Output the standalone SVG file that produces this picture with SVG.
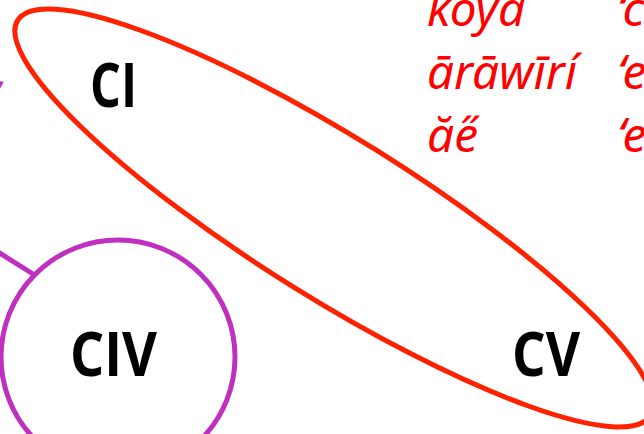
<svg xmlns="http://www.w3.org/2000/svg" width="644" height="434" viewBox="0 0 644 434">
<style>
.lbl{font-family:"Open Sans","Noto Sans",sans-serif;font-weight:bold;font-size:60px;fill:#000}
.red{font-family:"Noto Sans","Open Sans",sans-serif;font-style:italic;font-size:48px;fill:#FF0000}
.purple{stroke:#C030C0;stroke-width:5;fill:none}
</style>
<rect width="644" height="434" fill="#fff"/>
<g id="connectors">
<line class="purple" x1="-10" y1="247" x2="33" y2="274"/>
</g>
<text x="-4" y="87" font-family="Noto Sans, sans-serif" font-style="italic" font-size="48" fill="#C030C0">,</text>
<g id="words">
<text class="red" x="427" y="26" textLength="98" lengthAdjust="spacingAndGlyphs">koya</text>
<text class="red" x="427" y="89" textLength="150" lengthAdjust="spacingAndGlyphs">ārāwīrí</text>
<text class="red" x="427" y="152" textLength="51" lengthAdjust="spacingAndGlyphs">ăe̋</text>
<text class="red" x="617" y="26">‘c</text>
<text class="red" x="617" y="89">‘e</text>
<text class="red" x="617" y="152">‘e</text>
</g>
<g id="node-CIV">
<circle class="purple" cx="118" cy="357" r="117"/>
<text class="lbl" x="70" y="376" textLength="87" lengthAdjust="spacingAndGlyphs">CIV</text>
</g>
<g id="node-CV-CI">
<ellipse cx="334" cy="218" rx="373" ry="80" transform="rotate(32 334 218)" fill="none" stroke="#FF2200" stroke-width="5"/>
</g>
<g id="node-CI">
<text class="lbl" x="90" y="107" textLength="47" lengthAdjust="spacingAndGlyphs">CI</text>
</g>
<g id="node-CV">
<text class="lbl" x="512" y="376" textLength="68" lengthAdjust="spacingAndGlyphs">CV</text>
</g>
</svg>
